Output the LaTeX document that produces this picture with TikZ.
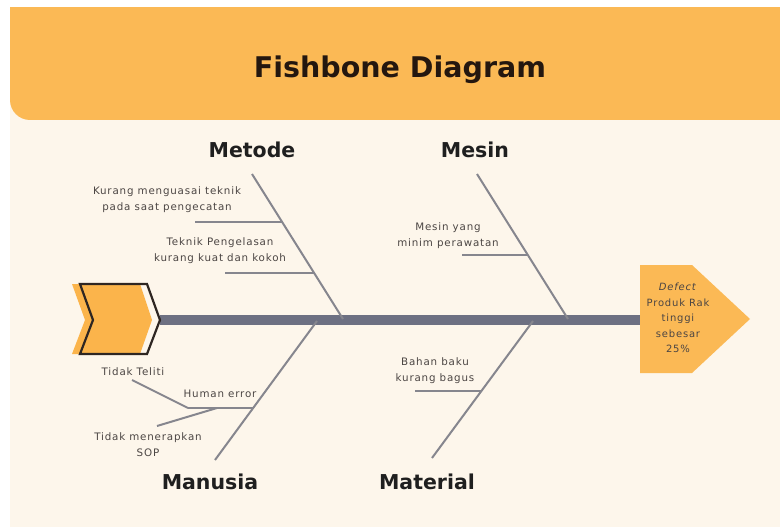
\documentclass[tikz,border=0pt]{standalone}
\usepackage{fontspec}
\setmainfont{DejaVu Sans}
\newfontfamily\smallfont{DejaVu Sans}[LetterSpace=8]
\definecolor{cream}{HTML}{FDF6EB}
\definecolor{headorange}{HTML}{FBB955}
\definecolor{chevorange}{HTML}{FBB44B}
\definecolor{chevdark}{HTML}{2E2622}
\definecolor{spinegray}{HTML}{6D7082}
\definecolor{bonegray}{HTML}{86868E}
\definecolor{txtgray}{HTML}{4B4543}
\definecolor{titlecol}{HTML}{24170F}
\tikzset{
  bone/.style={draw=bonegray, line width=2pt},
  spine/.style={draw=spinegray, line width=10pt},
  cause/.style={font=\smallfont\fontsize{10.3}{16}\selectfont, text=txtgray, align=center, inner sep=0pt},
  cat/.style={font=\bfseries\fontsize{20.5}{24}\selectfont, text=black!88, inner sep=0pt},
}
\begin{document}
\begin{tikzpicture}[x=1pt,y=-1pt]
\clip (0,0) rectangle (780,527);
\fill[white] (0,0) rectangle (780,527);
\fill[cream] (10,7) rectangle (780,527);
% header
\fill[headorange, rounded corners=20pt] (10,-40) rectangle (800,120);
\fill[white] (0,0) rectangle (780,7);
\fill[white] (0,0) rectangle (10,527);
\node[font=\bfseries\fontsize{28.5}{32}\selectfont, text=titlecol] (title) at (400,70) {Fishbone Diagram};

% spine
\coordinate (spineL) at (160,320);
\coordinate (spineR) at (640,320);
\draw[spine] (spineL) -- (spineR);

% tail chevron
\fill[chevorange] (72,284) -- (140,284) -- (152,320) -- (140,354) -- (72,354) -- (85,320) -- cycle;
\draw[chevdark, line width=2.2pt, line join=miter] (80,284) -- (147,284) -- (160,320) -- (147,354) -- (80,354) -- (93,320) -- cycle;

% head
\fill[headorange] (640,265) -- (692,265) -- (750,319) -- (692,373) -- (640,373) -- cycle;
\node[cause, font=\smallfont\fontsize{10}{15.5}\selectfont] (effect) at (678,318) {\textit{Defect}\\Produk Rak\\tinggi\\sebesar\\25\%};

% category labels
\node[cat] (metode) at (252,150) {Metode};
\node[cat] (mesin) at (475,150) {Mesin};
\node[cat] (manusia) at (210,482) {Manusia};
\node[cat] (material) at (427,482) {Material};

% main bones
\coordinate (metTop) at (252,174);
\coordinate (metJ) at (343,319);
\coordinate (mesTop) at (477,174);
\coordinate (mesJ) at (568,319);
\coordinate (matJ) at (533,321);
\coordinate (matEnd) at (432,458);
\coordinate (manJ) at (317,321);
\coordinate (manEnd) at (215,460);
\draw[bone] (metTop) -- (metJ);
\draw[bone] (mesTop) -- (mesJ);
\draw[bone] (matJ) -- (matEnd);
\draw[bone] (manJ) -- (manEnd);

% sub bones
\coordinate (met1L) at (195,222);
\coordinate (met1R) at (282,222);
\coordinate (met2L) at (225,273);
\coordinate (met2R) at (314,273);
\coordinate (mes1L) at (462,255);
\coordinate (mes1R) at (528,255);
\coordinate (mat1L) at (415,391);
\coordinate (mat1R) at (481,391);
\coordinate (man1L) at (188,408);
\coordinate (man1R) at (253,408);
\coordinate (tel) at (132,380);
\coordinate (sop) at (157,426);
\coordinate (sopJ) at (217,408);
\draw[bone] (met1L) -- (met1R);
\draw[bone] (met2L) -- (met2R);
\draw[bone] (mes1L) -- (mes1R);
\draw[bone, line width=1.6pt] (mat1L) -- (mat1R);
\draw[bone] (man1L) -- (man1R);
\draw[bone] (tel) -- (man1L);
\draw[bone] (sop) -- (sopJ);

% cause texts
\node[cause] (c1) at (167,200) {Kurang menguasai teknik\\pada saat pengecatan};
\node[cause] (c2) at (220,251) {Teknik Pengelasan\\kurang kuat dan kokoh};
\node[cause] (c3) at (448,236) {Mesin yang\\minim perawatan};
\node[cause] (c4) at (435,371) {Bahan baku\\kurang bagus};
\node[cause] (c5) at (220,394) {Human error};
\node[cause] (c6) at (133,372) {Tidak Teliti};
\node[cause] (c7) at (148,445) {Tidak menerapkan\\SOP};
\end{tikzpicture}
\end{document}
